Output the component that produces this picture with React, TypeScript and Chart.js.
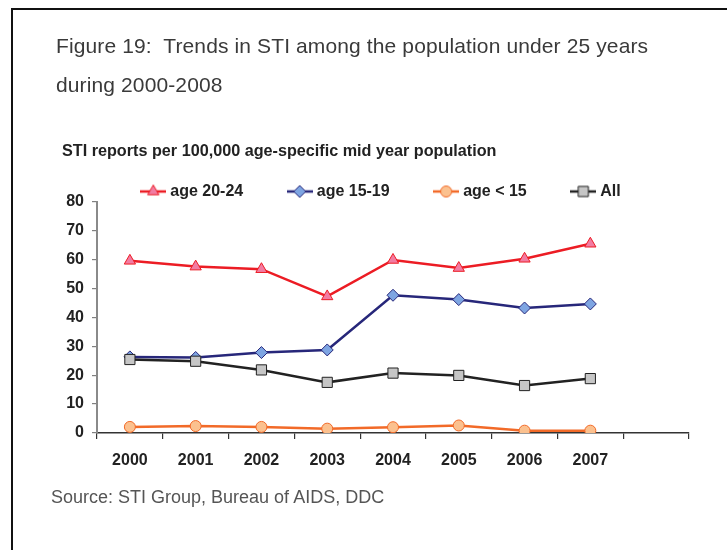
import React, { useEffect, useRef } from "react";
import { Chart, registerables } from "chart.js";
import { drawPoint } from "chart.js/helpers";

Chart.register(...registerables);

const years = ["2000", "2001", "2002", "2003", "2004", "2005", "2006", "2007", ""];
const age2024 = [59.5, 57.5, 56.6, 47.2, 59.8, 57.0, 60.2, 65.4, null];
const age1519 = [26.3, 26.1, 27.8, 28.7, 47.6, 46.1, 43.2, 44.6, null];
const ageUnder15 = [2.1, 2.4, 2.1, 1.5, 2.0, 2.6, 0.8, 0.8, null];
const allAges = [25.4, 24.8, 21.8, 17.5, 20.7, 19.9, 16.4, 18.8, null];
const seriesNames = ["age 20-24", "age 15-19", "age < 15", "All"];
const yMin = 0;
const yMax = 80;
const yStep = 10;

const FONT = "'Liberation Sans', Arial, Helvetica, sans-serif";

const styles = [
  { line: "#ec1c24", fill: "#f27ca2", point: "triangle", radius: 6.5, order: 1 },
  { line: "#27277a", fill: "#7ea5e2", point: "rectRot", radius: 6, order: 2 },
  { line: "#f26a28", fill: "#fbc18f", point: "circle", radius: 5.5, order: 3 },
  { line: "#222222", fill: "#c6c6c6", point: "rect", radius: 7.2, order: 0 },
];

function makeIcon(s: any) {
  const c = document.createElement("canvas");
  c.width = 26;
  c.height = 16;
  const ctx = c.getContext("2d") as CanvasRenderingContext2D;
  ctx.strokeStyle = s.line;
  ctx.lineWidth = 2.5;
  ctx.beginPath();
  ctx.moveTo(0, 8);
  ctx.lineTo(26, 8);
  ctx.stroke();
  ctx.fillStyle = s.fill;
  ctx.strokeStyle = s.line;
  ctx.lineWidth = 1;
  drawPoint(ctx, { pointStyle: s.point, radius: s.radius, rotation: 0, borderWidth: 1 } as any, 13, 8);
  return c;
}

const legendShift = {
  id: "legendShift",
  afterLayout(chart: any) {
    const l = chart.legend;
    if (l) {
      l.left += 12;
      l.right += 12;
    }
  },
};

export default function App() {
  const ref = useRef<HTMLCanvasElement | null>(null);

  useEffect(() => {
    if (!ref.current) return;
    const seriesData = [age2024, age1519, ageUnder15, allAges];
    const icons = styles.map(makeIcon);
    const chart = new Chart(ref.current, {
      type: "line",
      data: {
        labels: years,
        datasets: seriesData.map((d, i) => ({
          label: seriesNames[i],
          data: d,
          borderColor: styles[i].line,
          backgroundColor: styles[i].fill,
          borderWidth: 2.5,
          pointStyle: styles[i].point as any,
          pointRadius: styles[i].radius,
          pointBackgroundColor: styles[i].fill,
          pointBorderColor: styles[i].line,
          pointBorderWidth: 1,
          tension: 0,
          order: styles[i].order,
        })),
      },
      plugins: [legendShift],
      options: {
        animation: false,
        responsive: false,
        maintainAspectRatio: false,
        layout: { padding: { top: 136, left: 52, right: 38, bottom: 77 } },
        plugins: {
          tooltip: { enabled: false },
          title: { display: false },
          legend: {
            display: true,
            position: "top",
            align: "center",
            maxHeight: 65.5,
            labels: {
              usePointStyle: true,
              pointStyleWidth: 18,
              boxHeight: 16,
              padding: 47.5,
              color: "#222",
              font: { family: FONT, size: 16, weight: "bold" },
              generateLabels: () =>
                seriesNames.map((n, i) => ({
                  text: n,
                  pointStyle: icons[i] as any,
                  fillStyle: styles[i].fill,
                  strokeStyle: styles[i].line,
                  lineWidth: 0,
                  hidden: false,
                  datasetIndex: i,
                  fontColor: "#222",
                })),
            },
          },
        },
        scales: {
          x: {
            type: "category",
            offset: true,
            afterFit: (s: any) => {
              s.height = 40;
            },
            grid: {
              display: true,
              offset: true,
              drawOnChartArea: false,
              drawTicks: true,
              tickLength: 6,
              color: "#333",
              lineWidth: 1.2,
            },
            border: { display: true, color: "#333", width: 1.5 },
            ticks: {
              color: "#222",
              padding: 12,
              autoSkip: false,
              maxRotation: 0,
              font: { family: FONT, size: 16, weight: "bold" },
            },
          },
          y: {
            min: yMin,
            max: yMax,
            afterFit: (s: any) => {
              s.width = 45;
            },
            grid: {
              display: true,
              drawOnChartArea: false,
              drawTicks: true,
              tickLength: 5,
              color: "#808080",
              lineWidth: 1.2,
            },
            border: { display: true, color: "#8a8a8a", width: 2 },
            ticks: {
              stepSize: yStep,
              color: "#222",
              padding: 8,
              font: { family: FONT, size: 16, weight: "bold" },
            },
          },
        },
      },
    });
    return () => chart.destroy();
  }, []);

  return (
    <div
      style={{
        position: "fixed",
        left: 0,
        top: 0,
        width: 727,
        height: 550,
        overflow: "hidden",
        background: "#fff",
        fontFamily: FONT,
      }}
    >
      <div
        style={{
          position: "absolute",
          left: 11,
          top: 8,
          width: 716,
          height: 542,
          boxSizing: "border-box",
          borderLeft: "2px solid #111",
          borderTop: "2px solid #111",
        }}
      />
      <canvas
        ref={ref}
        width={727}
        height={550}
        style={{ position: "absolute", left: 0, top: 0, width: 727, height: 550 }}
      />
      <div
        style={{
          position: "absolute",
          left: 56,
          top: 27,
          fontSize: 21,
          letterSpacing: "0.12px",
          lineHeight: "38.5px",
          color: "#3a3a3a",
          whiteSpace: "pre",
        }}
      >
        {"Figure 19:  Trends in STI among the population under 25 years\nduring 2000-2008"}
      </div>
      <div
        style={{
          position: "absolute",
          left: 62,
          top: 140,
          fontSize: 16.2,
          lineHeight: "20px",
          fontWeight: "bold",
          color: "#222",
          whiteSpace: "pre",
        }}
      >
        STI reports per 100,000 age-specific mid year population
      </div>
      <div
        style={{
          position: "absolute",
          left: 51,
          top: 486,
          fontSize: 18,
          lineHeight: "22px",
          color: "#555",
          whiteSpace: "pre",
        }}
      >
        Source: STI Group, Bureau of AIDS, DDC
      </div>
    </div>
  );
}
